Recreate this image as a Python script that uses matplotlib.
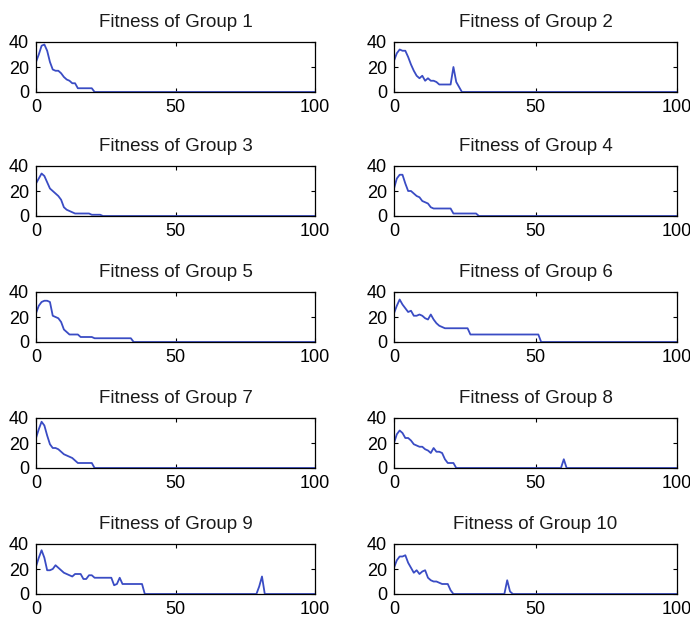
import numpy as np
import matplotlib
matplotlib.use("Agg")
import matplotlib.pyplot as plt

plt.rcParams['font.family'] = ['Liberation Sans', 'DejaVu Sans']

# fitness values, index = generation 0..N, rest is zero
g1 = [24, 30, 37, 38, 33, 24, 18, 17, 17, 15, 12, 10, 9, 7, 7, 3, 3, 3, 3, 3, 3, 0]
g2 = [25, 31, 34, 33, 33, 28, 22, 17, 13, 11, 13, 9, 11, 9, 9, 8, 6, 6, 6, 6, 6, 20, 8, 4, 0]
g3 = [26, 30, 34, 32, 27, 22, 20, 18, 16, 13, 7, 5, 4, 3, 2, 2, 2, 2, 2, 2, 1, 1, 1, 1, 0]
g4 = [22, 30, 33, 33, 26, 20, 20, 18, 16, 15, 12, 11, 10, 7, 6, 6, 6, 6, 6, 6, 6,
      2, 2, 2, 2, 2, 2, 2, 2, 2, 0]
g5 = [23, 29, 32, 33, 33, 32, 21, 20, 19, 16, 10, 8, 6, 6, 6, 6, 4, 4, 4, 4, 4,
      3, 3, 3, 3, 3, 3, 3, 3, 3, 3, 3, 3, 3, 3, 0]
g6 = [23, 29, 34, 30, 27, 24, 25, 21, 21, 22, 21, 19, 18, 22, 18, 15, 13, 12, 11,
      11, 11, 11, 11, 11, 11, 11, 11, 6, 6, 6, 6, 6, 6, 6, 6, 6, 6, 6, 6, 6, 6, 6,
      6, 6, 6, 6, 6, 6, 6, 6, 6, 6, 0]
g7 = [24, 31, 37, 34, 26, 19, 16, 16, 15, 13, 11, 10, 9, 8, 6, 4, 4, 4, 4, 4, 4, 0]
g8 = [20, 27, 30, 28, 24, 24, 22, 19, 18, 17, 17, 15, 14, 12, 16, 13, 13, 12, 7, 4, 4, 4, 0]
g9 = [22, 29, 35, 29, 19, 19, 20, 23, 21, 19, 17, 16, 15, 14, 16, 16, 16, 12, 12, 15,
      15, 13, 13, 13, 13, 13, 13, 13, 7, 8, 13, 8, 8, 8, 8, 8, 8, 8, 8, 0]
g10 = [21, 27, 30, 30, 31, 25, 21, 17, 19, 16, 18, 19, 13, 11, 10, 10, 9, 8, 8, 8, 3, 0]

# late isolated spikes: (generation, value)
spikes = {
    8: [(60, 7)], 9: [(80, 6), (81, 14)], 10: [(40, 11), (41, 2)],
}

groups = [g1, g2, g3, g4, g5, g6, g7, g8, g9, g10]
gens = np.arange(0, 101)

fig = plt.figure(figsize=(6.9, 6.2), dpi=100)
W, H = 690.0, 620.0
col_left = [36, 394]
col_width = [279, 283]
row_top = [42, 166, 292, 418, 544]
ax_h = 50

blue = '#3a4cc4'

for i, head in enumerate(groups):
    r, c = divmod(i, 2)
    y = np.zeros(len(gens))
    y[:len(head)] = head
    for gx, gv in spikes.get(i + 1, []):
        y[gx] = gv
    ax = fig.add_axes([col_left[c] / W, 1 - (row_top[r] + ax_h) / H,
                       col_width[c] / W, ax_h / H])
    ax.plot(gens, y, color=blue, lw=1.3)
    ax.set_xlim(0, 100)
    ax.set_ylim(0, 40)
    ax.set_xticks([0, 50, 100])
    ax.set_yticks([0, 20, 40])
    ax.tick_params(direction='in', top=True, right=True, length=3,
                   labelsize=13, pad=5)
    for s in ax.spines.values():
        s.set_linewidth(0.9)
    ax.set_title(f"Fitness of Group {i + 1}", fontsize=13.5, color='#1a1a1a', pad=11)

fig.savefig("out.png", dpi=100)
